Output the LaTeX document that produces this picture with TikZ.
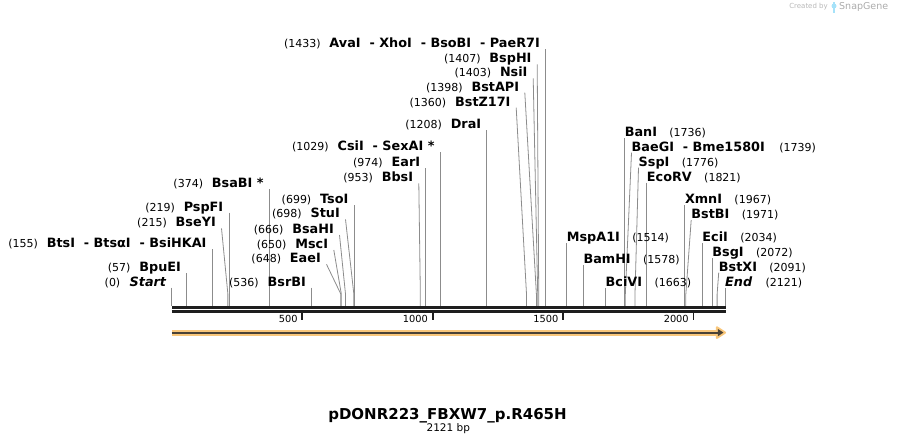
\documentclass[tikz,border=0pt]{standalone}
\usepackage{fontspec}
\setmainfont{DejaVu Sans}
\usetikzlibrary{positioning,backgrounds}
\definecolor{cutgray}{HTML}{8C8C8C}
\definecolor{axisblack}{HTML}{1E1E1E}
\definecolor{featorange}{HTML}{F9C77B}
\definecolor{featdark}{HTML}{4A4236}
\newcommand{\bpx}[1]{171.8+#1*0.2608}

\tikzset{
  lname/.style={anchor=base east, inner sep=0pt, font=\fontsize{12.8}{14}\selectfont\bfseries},
  rname/.style={anchor=base west, inner sep=0pt, font=\fontsize{12.8}{14}\selectfont\bfseries},
  num/.style={inner sep=0pt, font=\fontsize{11}{13}\selectfont},
  cut/.style={cutgray, line width=0.8pt},
}

\begin{document}
\begin{tikzpicture}[x=1pt,y=-1pt]
    \useasboundingbox (0,0) rectangle (898,445);

    \foreach \p in {0,57,155,215,219,374,536,648,650,666,698,699,953,974,1029,1208,1360,1398,1403,1407,1433,1514,1578,1663,1736,1739,1776,1821,1967,1971,2034,2072,2091,2121}
        \coordinate (p\p) at ({\bpx{\p}},306);

    \node (n0) [lname] at ({\bpx{0}-5.5},286.1) {\itshape Start};
    \node (c0) [num, left=9pt of n0.base west, anchor=base east] {(0)};
    \node (n57) [lname] at ({\bpx{57}-5.5},271.7) {BpuEI};
    \node (c57) [num, left=8.5pt of n57.base west, anchor=base east] {(57)};
    \node (n155) [lname] at ({\bpx{155}-5.5},247.7) {BtsI~~-~BtsαI~~-~BsiHKAI};
    \node (c155) [num, left=8.5pt of n155.base west, anchor=base east] {(155)};
    \node (n215) [lname] at (216,226.7) {BseYI};
    \node (c215) [num, left=8.5pt of n215.base west, anchor=base east] {(215)};
    \node (n219) [lname] at ({\bpx{219}-5.5},211.1) {PspFI};
    \node (c219) [num, left=8.5pt of n219.base west, anchor=base east] {(219)};
    \node (n374) [lname] at ({\bpx{374}-5.5},187.4) {BsaBI *};
    \node (c374) [num, left=8.5pt of n374.base west, anchor=base east] {(374)};
    \node (n536) [lname] at ({\bpx{536}-5.5},286.1) {BsrBI};
    \node (c536) [num, left=8.5pt of n536.base west, anchor=base east] {(536)};
    \node (n648) [lname] at (321,262.7) {EaeI};
    \node (c648) [num, left=8.5pt of n648.base west, anchor=base east] {(648)};
    \node (n650) [lname] at (328.3,248.4) {MscI};
    \node (c650) [num, left=8.5pt of n650.base west, anchor=base east] {(650)};
    \node (n666) [lname] at (334,233.4) {BsaHI};
    \node (c666) [num, left=8.5pt of n666.base west, anchor=base east] {(666)};
    \node (n698) [lname] at (340,217.7) {StuI};
    \node (c698) [num, left=8.5pt of n698.base west, anchor=base east] {(698)};
    \node (n699) [lname] at ({\bpx{699}-5.5},203.7) {TsoI};
    \node (c699) [num, left=8.5pt of n699.base west, anchor=base east] {(699)};
    \node (n953) [lname] at (413.3,181.7) {BbsI};
    \node (c953) [num, left=8.5pt of n953.base west, anchor=base east] {(953)};
    \node (n974) [lname] at ({\bpx{974}-5.5},166.7) {EarI};
    \node (c974) [num, left=8.5pt of n974.base west, anchor=base east] {(974)};
    \node (n1029) [lname] at ({\bpx{1029}-5.5},150.4) {CsiI~~-~SexAI *};
    \node (c1029) [num, left=8.5pt of n1029.base west, anchor=base east] {(1029)};
    \node (n1208) [lname] at ({\bpx{1208}-5.5},128.7) {DraI};
    \node (c1208) [num, left=8.5pt of n1208.base west, anchor=base east] {(1208)};
    \node (n1360) [lname] at (510.7,106.1) {BstZ17I};
    \node (c1360) [num, left=8.5pt of n1360.base west, anchor=base east] {(1360)};
    \node (n1398) [lname] at (519.3,91.1) {BstAPI};
    \node (c1398) [num, left=8.5pt of n1398.base west, anchor=base east] {(1398)};
    \node (n1403) [lname] at (527.7,76.7) {NsiI};
    \node (c1403) [num, left=8.5pt of n1403.base west, anchor=base east] {(1403)};
    \node (n1407) [lname] at (531.7,62.7) {BspHI};
    \node (c1407) [num, left=8.5pt of n1407.base west, anchor=base east] {(1407)};
    \node (n1433) [lname] at ({\bpx{1433}-5.5},47.7) {AvaI~~-~XhoI~~-~BsoBI~~-~PaeR7I};
    \node (c1433) [num, left=8.5pt of n1433.base west, anchor=base east] {(1433)};

    \node (n1514) [rname] at ({\bpx{1514}},241.7) {MspA1I};
    \node (c1514) [num, right=12pt of n1514.base east, anchor=base west] {(1514)};
    \node (n1578) [rname] at ({\bpx{1578}},263.7) {BamHI};
    \node (c1578) [num, right=12pt of n1578.base east, anchor=base west] {(1578)};
    \node (n1663) [rname] at ({\bpx{1663}},286.7) {BciVI};
    \node (c1663) [num, right=12pt of n1663.base east, anchor=base west] {(1663)};
    \node (n1736) [rname] at ({\bpx{1736}},136.7) {BanI};
    \node (c1736) [num, right=12pt of n1736.base east, anchor=base west] {(1736)};
    \node (n1739) [rname] at (631.5,151.1) {BaeGI~~-~Bme1580I};
    \node (c1739) [num, right=14pt of n1739.base east, anchor=base west] {(1739)};
    \node (n1776) [rname] at (638.5,166.1) {SspI};
    \node (c1776) [num, right=12pt of n1776.base east, anchor=base west] {(1776)};
    \node (n1821) [rname] at ({\bpx{1821}},181.1) {EcoRV};
    \node (c1821) [num, right=12pt of n1821.base east, anchor=base west] {(1821)};
    \node (n1967) [rname] at ({\bpx{1967}},203.4) {XmnI};
    \node (c1967) [num, right=12pt of n1967.base east, anchor=base west] {(1967)};
    \node (n1971) [rname] at (691.2,218.4) {BstBI};
    \node (c1971) [num, right=12pt of n1971.base east, anchor=base west] {(1971)};
    \node (n2034) [rname] at ({\bpx{2034}},241.7) {EciI};
    \node (c2034) [num, right=12pt of n2034.base east, anchor=base west] {(2034)};
    \node (n2072) [rname] at ({\bpx{2072}},256.7) {BsgI};
    \node (c2072) [num, right=12pt of n2072.base east, anchor=base west] {(2072)};
    \node (n2091) [rname] at (718.7,271.1) {BstXI};
    \node (c2091) [num, right=12pt of n2091.base east, anchor=base west] {(2091)};
    \node (n2121) [rname] at ({\bpx{2121}},286.7) {\itshape End};
    \node (c2121) [num, right=13pt of n2121.base east, anchor=base west] {(2121)};

    \begin{scope}[on background layer]
    \foreach \p in {0,57,155,215,219,374,536,648,650,666,698,699,953,974,1029,1208,1360,1398,1403,1407,1433}
        \draw [cut] ([xshift=5.5pt,yshift=-1.6pt]n\p.base east) -- ([yshift=12pt]p\p) -- (p\p);
    \foreach \p in {1514,1578,1663,1736,1739,1776,1821,1967,1971,2034,2072,2091,2121}
        \draw [cut] ([yshift=-1.6pt]n\p.base west) -- ([yshift=12pt]p\p) -- (p\p);
    \end{scope}

    \coordinate (axstart) at ({\bpx{0}},307.2);
    \coordinate (axend) at ({\bpx{2121}+0.6},307.2);
    \draw [axisblack, line width=2.8pt] (axstart) -- (axend);
    \draw [axisblack, line width=2.6pt] ([yshift=-4.1pt]axstart) -- ([yshift=-4.1pt]axend);
    \foreach \t in {500,1000,1500,2000} {
        \draw [axisblack, line width=1.8pt] ({\bpx{\t}},312) -- ({\bpx{\t}},319.5);
        \node (tick\t) [anchor=base east, inner sep=0pt, font=\fontsize{9.8}{11}\selectfont] at ({\bpx{\t}-4.5},322.3) {\t};
    }

    \coordinate (fstart) at ({\bpx{0}},332.6);
    \coordinate (fend) at ({\bpx{2121}},332.6);
    \draw [featorange, line width=6pt] (fstart) -- ([xshift=-5pt]fend);
    \filldraw [featorange, line width=2.2pt, line join=round] ([xshift=-8pt,yshift=5.2pt]fend) -- (fend) -- ([xshift=-8pt,yshift=-5.2pt]fend) -- cycle;
    \draw [featdark, line width=2pt] (fstart) -- ([xshift=-5pt]fend);
    \fill [featdark] ([xshift=-7pt,yshift=3.6pt]fend) -- ([xshift=-1.5pt]fend) -- ([xshift=-7pt,yshift=-3.6pt]fend) -- cycle;

    \node (title) [font=\fontsize{15}{17}\selectfont\bfseries] at (447.5,415.7) {pDONR223\_FBXW7\_p.R465H};
    \node (size) [font=\fontsize{10.5}{12}\selectfont] at (448.3,428.8) {2121 bp};

    \node (created) [anchor=east, inner sep=0pt, text=black!28, font=\fontsize{7}{8}\selectfont] at (828,7) {Created by};
    \fill [cyan!35] (832.5,2) rectangle (835,12.5);
    \fill [cyan!35] (834,6) circle (2.5pt);
    \node (snapgene) [anchor=west, inner sep=0pt, text=black!33, font=\fontsize{9.5}{11}\selectfont] at (839,7) {SnapGene};
\end{tikzpicture}
\end{document}
